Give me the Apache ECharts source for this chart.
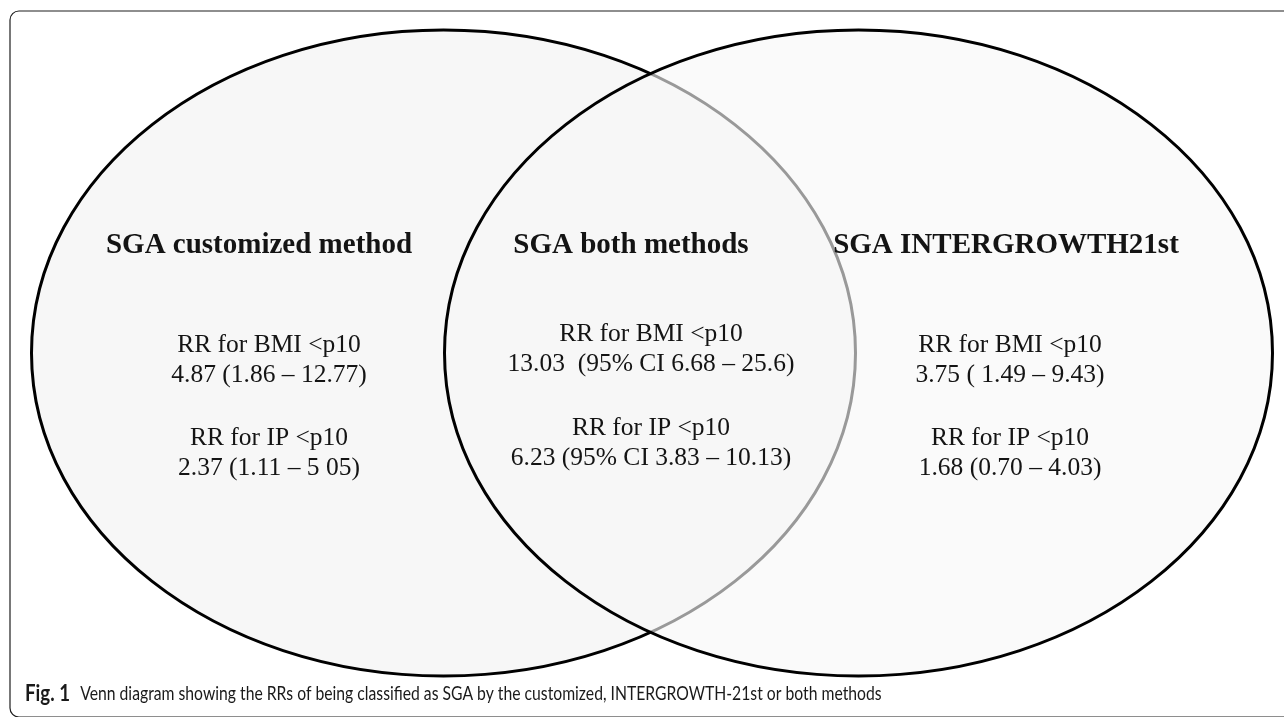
<!DOCTYPE html>
<html>
<head>
<meta charset="utf-8">
<script src="https://cdn.jsdelivr.net/npm/echarts@6/dist/echarts.min.js"></script>
<style>
  html, body { margin: 0; padding: 0; background: #ffffff; }
  #chart { width: 1284px; height: 717px; }
</style>
</head>
<body>
<div id="chart"></div>
<script>
// ---- Data (text content of the Venn regions) ----
const regionTitles = ['SGA customized method', 'SGA both methods', 'SGA INTERGROWTH21st'];
const bmiLabels = ['RR for BMI <p10', 'RR for BMI <p10', 'RR for BMI <p10'];
const bmiValues = ['4.87 (1.86 \u2013 12.77)', '13.03  (95% CI 6.68 \u2013 25.6)', '3.75 ( 1.49 \u2013 9.43)'];
const ipLabels = ['RR for IP <p10', 'RR for IP <p10', 'RR for IP <p10'];
const ipValues = ['2.37 (1.11 \u2013 5 05)', '6.23 (95% CI 3.83 \u2013 10.13)', '1.68 (0.70 \u2013 4.03)'];
const captionBold = 'Fig. 1';
const captionText = 'Venn diagram showing the RRs of being classified as SGA by the customized, INTERGROWTH-21st or both methods';

// ---- Layout (positions in the hidden axis space) ----
const setShapes = [
  // [centerX, centerY, radiusX, radiusY]
  [443.5, 353, 412, 323],
  [858.5, 353, 414, 323]
];
const titleX = [259, 631, 1006];
const lineX = [269, 651, 1010];
const titleY = [246, 246, 246];
const bmiY = [[345.5, 375.5], [334.5, 364.5], [345.5, 375.5]];
const ipY = [[438.5, 468.5], [428.5, 458.5], [438.5, 468.5]];

const chart = echarts.init(document.getElementById('chart'), null, { renderer: 'canvas' });

const serif = '"Liberation Serif", "Times New Roman", serif';
const textColor = '#141414';

const setFills = ['#f7f7f7', 'rgba(247,247,247,0.62)'];

const option = {
  animation: false,
  backgroundColor: '#ffffff',
  grid: { left: 0, right: 0, top: 0, bottom: 0 },
  xAxis: { type: 'value', min: 0, max: 1284, show: false },
  yAxis: { type: 'value', min: 0, max: 717, inverse: true, show: false },
  graphic: [
    {
      type: 'rect',
      shape: { x: 10, y: 11, width: 1320, height: 706, r: 9 },
      style: { fill: 'none', stroke: '#1e1e1e', lineWidth: 1.2 },
      z: 0
    },
    {
      type: 'text',
      x: 25, y: 694,
      scaleX: 0.85,
      originX: 0,
      style: {
        text: '{b|' + captionBold + '}{r|' + captionText + '}',
        rich: {
          b: { fontFamily: 'Lato, sans-serif', fontWeight: 'bold', fontSize: 22, fill: '#1a1a1a', padding: [0, 12, 0, 0] },
          r: { fontFamily: 'Lato, sans-serif', fontWeight: 'normal', fontSize: 18.5, fill: '#1a1a1a' }
        },
        verticalAlign: 'middle'
      },
      z: 10
    }
  ],
  series: [
    {
      type: 'custom',
      coordinateSystem: 'cartesian2d',
      data: setShapes,
      z: 2,
      renderItem: function (params, api) {
        const c = api.coord([api.value(0), api.value(1)]);
        const s = api.size([api.value(2), api.value(3)]);
        return {
          type: 'ellipse',
          shape: { cx: c[0], cy: c[1], rx: s[0], ry: s[1] },
          style: { fill: setFills[params.dataIndex], stroke: '#000000', lineWidth: 3 }
        };
      }
    },
    {
      type: 'custom',
      coordinateSystem: 'cartesian2d',
      data: regionTitles.map((t, i) => [titleX[i], titleY[i]]),
      z: 5,
      renderItem: function (params, api) {
        const i = params.dataIndex;
        const mk = (txt, x, y, bold) => {
          const p = api.coord([x, y]);
          return {
            type: 'text',
            x: p[0], y: p[1],
            style: {
              text: txt,
              fontFamily: serif,
              fontWeight: bold ? 'bold' : 'normal',
              fontSize: bold ? 29 : 25.5,
              fill: textColor,
              align: 'center',
              verticalAlign: 'middle'
            }
          };
        };
        return {
          type: 'group',
          children: [
            mk(regionTitles[i], titleX[i], titleY[i], true),
            mk(bmiLabels[i], lineX[i], bmiY[i][0], false),
            mk(bmiValues[i], lineX[i], bmiY[i][1], false),
            mk(ipLabels[i], lineX[i], ipY[i][0], false),
            mk(ipValues[i], lineX[i], ipY[i][1], false)
          ]
        };
      }
    }
  ]
};

chart.setOption(option);
</script>
</body>
</html>
